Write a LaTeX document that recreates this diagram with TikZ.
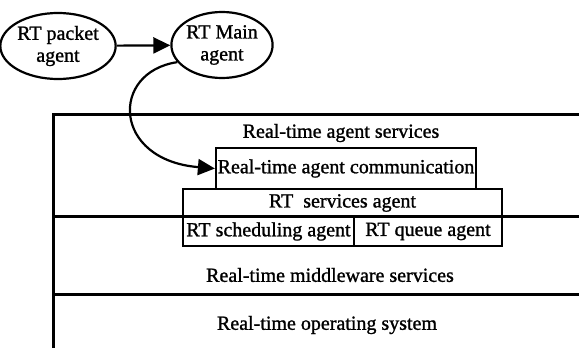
\documentclass[tikz,border=0pt]{standalone}
\usepackage{fontspec}
\setmainfont{Liberation Serif}[FakeBold=1.2]
\usetikzlibrary{shapes.geometric,arrows.meta}
\begin{document}
\begin{tikzpicture}[x=1pt,y=-1pt,
  every node/.style={font=\fontsize{20}{22}\selectfont},
  agent/.style={ellipse,draw,line width=2.2pt,inner sep=0pt,
    minimum width=97pt,minimum height=66pt,align=center},
  layerbox/.style={rectangle,draw,line width=2.2pt,inner sep=0pt},
  frame/.style={line width=3pt},
  link/.style={line width=2.2pt,-{Triangle[length=17pt,width=16pt]}}]
\useasboundingbox (0,0) rectangle (579,348);

% layer frame (open on the right and bottom)
\draw[frame] (579,114) -- (53,114) -- (53,348);
\draw[frame] (53,216) -- (579,216);
\draw[frame] (53,294) -- (579,294);

% layer captions
\node (svc) at (341,133) {Real-time agent services};
\node (mw)  at (330,275) {Real-time middleware services};
\node (os)  at (327,325) {Real-time operating system};

% agent boxes
\node[layerbox,minimum width=260pt,minimum height=41pt] (comm) at (346,168.5)
  {Real-time agent communication};
\node[layerbox,minimum width=319pt,minimum height=28pt] (rtsvc) at (342.5,203)
  {RT~\ services agent};
\node[layerbox,minimum width=171pt,minimum height=29pt] (sched) at (268.5,231.5)
  {RT scheduling agent};
\node[layerbox,minimum width=148pt,minimum height=29pt] (queue) at (428,231.5)
  {RT queue agent};

% agents
\node[agent] (packet) at (58,46) {RT packet\\agent};
\node[agent] (main) at (222,45) {RT Main\\agent};

% connectors
\draw[link] (packet) -- (main);
\draw[link] (main.201) .. controls (110,72) and (112,160) .. (comm.west);
\end{tikzpicture}
\end{document}
